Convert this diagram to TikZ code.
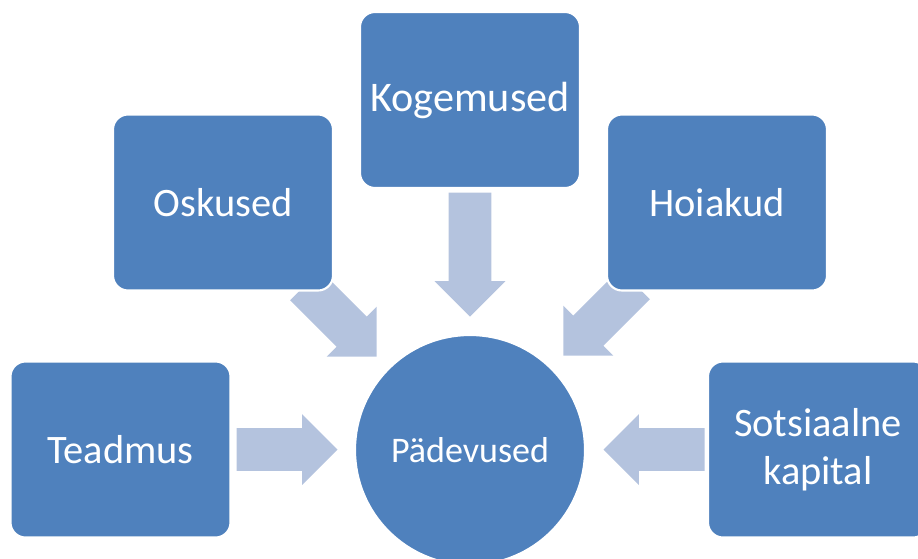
\documentclass[tikz,border=0pt]{standalone}
\usepackage{fontspec}
\setmainfont{Carlito}
\usepackage{xcolor}
\definecolor{boxblue}{HTML}{4F81BD}
\definecolor{flowblue}{RGB}{180,195,222}
\usetikzlibrary{
  shapes.arrows
}

\begin{document}
\begin{tikzpicture}[
  box/.style = {shape=rectangle, rounded corners=0.3cm,
    draw=white, line width=1.2pt, fill=boxblue, text=white,
    minimum width=4.4cm, minimum height=3.52cm, align=center,
    font=\fontsize{23}{27}\selectfont},
  hub/.style = {shape=circle, draw=white, line width=1.2pt,
    fill=boxblue, text=white, minimum size=4.6cm,
    font=\fontsize{20.5}{24}\selectfont},
  flow/.style = {shape=single arrow, fill=flowblue, draw=none,
    inner xsep=0pt, inner ysep=0.42cm, minimum width=1.4cm,
    minimum height=2.02cm, single arrow head extend=0.28cm,
    single arrow tip angle=90, anchor=tip}]
  \useasboundingbox (0,0) rectangle (18.36,-11.16);
  \clip (0,0) rectangle (18.36,-11.16);
  \node[flow] (teadmusflow) at (6.76,-8.99) {};
  \node[flow, rotate=-45] (oskusedflow) at (7.54,-7.14) {};
  \node[flow, rotate=-90, minimum height=2.48cm] (kogemusedflow) at (9.4,-6.34) {};
  \node[flow, rotate=-135] (hoiakudflow) at (11.26,-7.12) {};
  \node[flow, rotate=180] (sotsiaalneflow) at (12.06,-8.99) {};
  \node[box, font=\fontsize{24}{28}\selectfont] (kogemused) at (9.4,-2.0) {Kogemused};
  \node[box] (oskused) at (4.46,-4.05) {Oskused};
  \node[box] (hoiakud) at (14.34,-4.05) {Hoiakud};
  \node[box] (teadmus) at (2.41,-8.99) {Teadmus};
  \node[box] (sotsiaalne) at (16.36,-8.99) {Sotsiaalne\\kapital};
  \node[hub] (padevused) at (9.4,-9.0) {Pädevused};
\end{tikzpicture}
\end{document}
